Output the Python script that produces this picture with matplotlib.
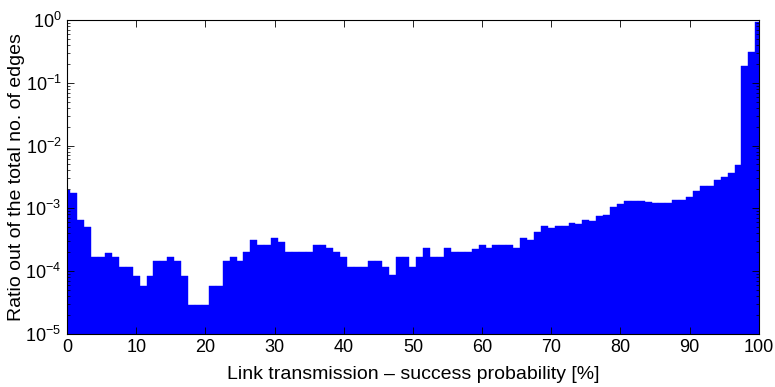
import numpy as np
import matplotlib
matplotlib.use("Agg")
import matplotlib.pyplot as plt
from matplotlib.ticker import LogLocator, FixedLocator

plt.rcParams['font.family'] = ['Liberation Sans', 'DejaVu Sans']
plt.rcParams['mathtext.default'] = 'regular'

#===========================================================#

### Data

# bin centres, link success probability [%]
prob = np.arange(0, 101)

# ratio out of the total no. of edges, one value per bin
ratio = [
    1.94e-3, 1.72e-3, 6.6e-4, 5.0e-4, 1.68e-4, 1.68e-4, 1.94e-4, 1.66e-4, 1.14e-4, 1.14e-4,   # 0-9
    8.4e-5, 5.7e-5, 8.4e-5, 1.42e-4, 1.42e-4, 1.66e-4, 1.42e-4, 8.4e-5, 2.85e-5, 2.85e-5,   # 10-19
    2.85e-5, 5.7e-5, 5.7e-5, 1.42e-4, 1.66e-4, 1.42e-4, 2.0e-4, 3.1e-4, 2.55e-4, 2.55e-4,   # 20-29
    3.4e-4, 2.9e-4, 2.0e-4, 2.0e-4, 2.0e-4, 2.0e-4, 2.55e-4, 2.55e-4, 2.28e-4, 2.0e-4,      # 30-39
    1.68e-4, 1.14e-4, 1.14e-4, 1.14e-4, 1.43e-4, 1.43e-4, 1.14e-4, 8.5e-5, 1.68e-4, 1.68e-4, # 40-49
    1.14e-4, 1.68e-4, 2.3e-4, 1.68e-4, 1.68e-4, 2.3e-4, 2.0e-4, 2.0e-4, 2.0e-4, 2.25e-4,    # 50-59
    2.55e-4, 2.3e-4, 2.55e-4, 2.6e-4, 2.55e-4, 2.3e-4, 3.4e-4, 3.1e-4, 4.1e-4, 5.2e-4,      # 60-69
    4.9e-4, 5.2e-4, 5.2e-4, 5.8e-4, 5.5e-4, 6.6e-4, 6.3e-4, 7.6e-4, 7.9e-4, 1.03e-3,       # 70-79
    1.15e-3, 1.31e-3, 1.31e-3, 1.31e-3, 1.27e-3, 1.23e-3, 1.2e-3, 1.2e-3, 1.37e-3, 1.37e-3, # 80-89
    1.5e-3, 1.85e-3, 2.3e-3, 2.3e-3, 2.8e-3, 3.1e-3, 3.6e-3, 4.9e-3, 0.187, 0.31,          # 90-99
    0.92,                                                                                  # 100
]

xticks = list(range(0, 101, 10))

#===========================================================#

### Plot

fig = plt.figure(figsize=(7.75, 3.87), dpi=100)
ax = fig.add_axes([0.0865, 0.138, 0.8925, 0.81])

ax.bar(prob, ratio, width=1.0, align='center', color=(0, 0, 1),
       edgecolor=(0, 0, 1), linewidth=0.3, log=True)

ax.set_xlim(0, 100)
ax.set_ylim(1e-5, 1)
ax.set_yscale('log')

ax.xaxis.set_major_locator(FixedLocator(xticks))
ax.yaxis.set_major_locator(LogLocator(base=10, numticks=10))
ax.yaxis.set_minor_locator(LogLocator(base=10, subs=np.arange(2, 10), numticks=10))

ax.tick_params(which='both', direction='in', top=True, right=True, labelsize=13)
ax.tick_params(which='major', length=5, width=0.6, pad=4)
ax.tick_params(which='minor', length=2.5, width=0.5)
for s in ax.spines.values():
    s.set_linewidth(0.8)

ax.set_xlabel("Link transmission \u2013 success probability [%]", fontsize=14, labelpad=7)
ax.set_ylabel("Ratio out of the total no. of edges", fontsize=14, labelpad=0)
ax.set_axisbelow(False)

fig.savefig("out.png", dpi=100)
